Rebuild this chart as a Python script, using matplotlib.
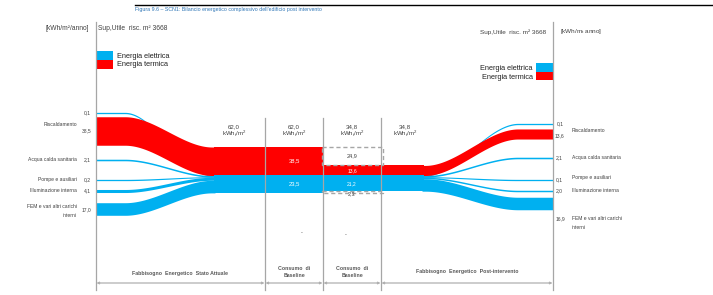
import matplotlib
matplotlib.use('Agg')
import matplotlib.pyplot as plt
from matplotlib.patches import Rectangle
import numpy as np

plt.rcParams['font.family'] = ['Liberation Sans', 'DejaVu Sans']
plt.rcParams['mathtext.fontset'] = 'custom'
plt.rcParams['mathtext.rm'] = 'Liberation Sans'
plt.rcParams['mathtext.it'] = 'Liberation Sans'

# data (kWh/m2 anno)
uses = ['Riscaldamento', 'Acqua calda sanitaria', 'Pompe e ausiliari',
        'Illuminazione interna', 'FEM e vari altri carichi\ninterni']
ante_el = [0.1, 2.1, 0.2, 4.1, 17.0]   # electric, one per use
ante_th = 38.5                          # thermal (heating)
post_el = [0.1, 2.1, 0.1, 2.0, 16.9]
post_th = 13.6
area = 3668

# layout (pixel space)
K = 0.74                      # px per kWh/m2
left_el_y = [113, 160, 180, 191, 209]
left_th_y = 131
right_el_y = [124, 158, 180, 191, 203.5]
right_th_y = 134
use_lab_left_y = [125, 160, 179, 191, 211]
use_lab_right_y = [130, 158, 178, 190, 223]
stack_top = 147
x_sec = [96, 265, 323, 381, 553]

RED = '#FF0000'
BLUE = '#00B0F0'
GRID = '#A6A6A6'
TXT = '#404040'

fmt = lambda v: f'{v:.1f}'.replace('.', ',')

fig = plt.figure(figsize=(7.13, 2.95), dpi=100)
ax = fig.add_axes([0, 0, 1, 1])
ax.set_xlim(0, 713)
ax.set_ylim(295, 0)
ax.axis('off')


def smooth(x, x0, x1, y0, y1):
    t = np.clip((x - x0) / (x1 - x0), 0, 1)
    s = t * t * (3 - 2 * t)
    return y0 + (y1 - y0) * s, s


def flow(xa, xb, c0, c1, w0, w1, cx0, cx1, color):
    xs = np.linspace(xa, xb, 300)
    c, s = smooth(xs, cx0, cx1, c0, c1)
    w = w0 + (w1 - w0) * s
    ax.fill_between(xs, c - w / 2, c + w / 2, color=color, lw=0)


boundary = stack_top + ante_th * K

# left flows (ante), blue first then red on top
cum = boundary
for v, yc in zip(ante_el, left_el_y):
    sc = cum + v * K / 2
    flow(x_sec[0], 215, yc, sc, max(v * K, 1.3), max(v * K, 1.0), 125, 212, BLUE)
    cum += v * K
flow(x_sec[0], 215, left_th_y, stack_top + ante_th * K / 2, ante_th * K, ante_th * K, 125, 212, RED)

# baseline stack
ax.add_patch(Rectangle((214, stack_top), x_sec[2] - 214, ante_th * K, color=RED, lw=0))
ax.add_patch(Rectangle((214, boundary), x_sec[2] - 214, sum(ante_el) * K, color=BLUE, lw=0))

# right flows (post)
cum = boundary
for v, yc in zip(post_el, right_el_y):
    sc = cum + v * K / 2
    flow(422, x_sec[4], sc, yc, max(v * K, 1.0), max(v * K, 1.3), 425, 518, BLUE)
    cum += v * K
flow(422, x_sec[4], boundary - post_th * K / 2, right_th_y, post_th * K, post_th * K, 425, 518, RED)

# post stack
ax.add_patch(Rectangle((x_sec[2], boundary - post_th * K), 424 - x_sec[2], post_th * K, color=RED, lw=0))
ax.add_patch(Rectangle((x_sec[2], boundary), 424 - x_sec[2], sum(post_el) * K, color=BLUE, lw=0))

# savings (dashed boxes)
save_th = ante_th - post_th
save_el = sum(ante_el) - sum(post_el)
ax.add_patch(Rectangle((x_sec[2] - 1, stack_top), x_sec[3] - x_sec[2] + 3, save_th * K,
                       fill=False, ec=GRID, ls=(0, (3, 2)), lw=1.0))
ax.add_patch(Rectangle((x_sec[2] - 1, boundary + sum(post_el) * K), x_sec[3] - x_sec[2] + 3,
                       save_el * K, fill=False, ec=GRID, ls=(0, (3, 2)), lw=1.0))
ax.text(352, stack_top + save_th * K / 2, fmt(save_th), fontsize=4, color=TXT, ha='center', va='center')
ax.text(352, boundary + sum(post_el) * K + save_el * K / 2 + 1.5, fmt(save_el), fontsize=4,
        color=TXT, ha='center', va='center')

# values inside stacks
ax.text(294, stack_top + ante_th * K / 2, fmt(ante_th), fontsize=4.2, color='white', ha='center', va='center')
ax.text(294, boundary + sum(ante_el) * K / 2, fmt(sum(ante_el)), fontsize=4.2, color='white', ha='center', va='center')
ax.text(352, boundary - post_th * K / 2, fmt(post_th), fontsize=3.6, color='white', ha='center', va='center')
ax.text(352, boundary + sum(post_el) * K / 2, fmt(sum(post_el)), fontsize=3.6, color='white', ha='center', va='center')

# section lines
ax.plot([x_sec[0]] * 2, [22, 290], color=GRID, lw=0.9)
ax.plot([x_sec[4]] * 2, [22, 290], color=GRID, lw=0.9)
for x in x_sec[1:4]:
    ax.plot([x] * 2, [118, 290], color=GRID, lw=0.9)

# totals
tot_ante = ante_th + sum(ante_el)
tot_post = post_th + sum(post_el)
for x, t in zip([234, 294, 352, 405], [tot_ante, tot_ante, tot_post, tot_post]):
    ax.text(x, 127, fmt(t), fontsize=4.4, color=TXT, ha='center', va='center')
    ax.text(x, 134, 'kWh$_t$/m$^2$', fontsize=4.4, color=TXT, ha='center', va='center')

# left labels
ax.text(91, left_el_y[0], fmt(ante_el[0]), fontsize=3.6, color=TXT, ha='right', va='center')
ax.text(91, left_th_y, fmt(ante_th), fontsize=3.6, color=TXT, ha='right', va='center')
for i in range(1, 5):
    ax.text(91, left_el_y[i] + (1 if i == 4 else 0), fmt(ante_el[i]), fontsize=3.6, color=TXT,
            ha='right', va='center')
for lab, y in zip(uses, use_lab_left_y):
    ax.text(77, y, lab, fontsize=3.6, color=TXT, ha='right', va='center', linespacing=1.9,
            multialignment='right')

# right labels
ax.text(557, right_el_y[0], fmt(post_el[0]), fontsize=3.6, color=TXT, ha='left', va='center')
ax.text(555, right_th_y + 2, fmt(post_th), fontsize=3.6, color=TXT, ha='left', va='center')
for i in range(1, 5):
    y = right_el_y[i] if i < 4 else 219
    ax.text(556, y, fmt(post_el[i]), fontsize=3.6, color=TXT, ha='left', va='center')
for lab, y in zip(uses, use_lab_right_y):
    ax.text(572, y, lab, fontsize=3.6, color=TXT, ha='left', va='center', linespacing=1.9)

# headers
ax.plot([135, 713], [5, 5], color='black', lw=1.0)
ax.text(135, 9.5, "Figura 9.6 \u2013 SCN1: Bilancio energetico complessivo dell'edificio post intervento",
        fontsize=3.8, color='#2E75B6', ha='left', va='center')
ax.text(89, 28, '[kWh/m\u00b2/anno]', fontsize=4.8, color=TXT, ha='right', va='center')
ax.text(98, 28.5, f'Sup,Utile  risc. m\u00b2 {area}', fontsize=4.8, color=TXT, ha='left', va='center')
ax.text(546, 32, f'Sup,Utile  risc. m\u00b2 {area}', fontsize=4.6, color=TXT, ha='right', va='center')
ax.text(560, 32, '[kWh/m$_t$ anno]', fontsize=4.6, color=TXT, ha='left', va='center')

# legends
ax.add_patch(Rectangle((96, 51), 17, 9, color=BLUE, lw=0))
ax.add_patch(Rectangle((96, 60), 17, 9, color=RED, lw=0))
ax.text(117, 56, 'Energia elettrica', fontsize=5.3, color='#222222', ha='left', va='center')
ax.text(117, 64.5, 'Energia termica', fontsize=5.3, color='#222222', ha='left', va='center')
ax.add_patch(Rectangle((536, 63), 17, 9, color=BLUE, lw=0))
ax.add_patch(Rectangle((536, 72), 17, 8, color=RED, lw=0))
ax.text(533, 69, 'Energia elettrica', fontsize=5.3, color='#222222', ha='right', va='center')
ax.text(533, 77.5, 'Energia termica', fontsize=5.3, color='#222222', ha='right', va='center')

# small dashes
ax.text(302, 233, '-', fontsize=4, color=TXT, ha='center', va='center')
ax.text(346, 235, '-', fontsize=4, color=TXT, ha='center', va='center')

# bottom arrows and section names
for xa, xb in zip(x_sec[:-1], x_sec[1:]):
    ax.annotate('', xy=(xb - 0.5, 283), xytext=(xa + 0.5, 283),
                arrowprops=dict(arrowstyle='<|-|>', color='#B0B0B0', lw=0.9,
                                mutation_scale=3, shrinkA=0, shrinkB=0))
sec_names = ['Fabbisogno  Energetico  Stato Attuale', 'Consumo  di\nBaseline',
             'Consumo  di\nBaseline', 'Fabbisogno  Energetico  Post-intervento']
sec_y = [273, 272, 272, 271]
for xa, xb, name, y in zip(x_sec[:-1], x_sec[1:], sec_names, sec_y):
    ax.text((xa + xb) / 2, y, name, fontsize=3.8, color='#595959', ha='center', va='center',
            fontweight='bold', linespacing=1.5)

plt.savefig('out.png', dpi=100, facecolor='white')
plt.close()
